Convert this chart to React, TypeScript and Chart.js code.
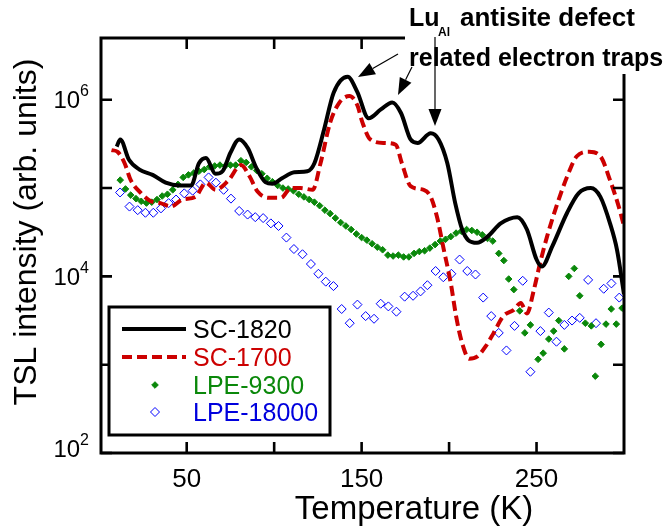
import React, { useEffect, useRef } from "react";
import { Chart, registerables } from "chart.js";

Chart.register(...registerables);

// ---- data (temperature in K, TSL intensity in arb. units) ----
const sc1820T = [10, 12, 17, 23, 30.5, 38, 46, 52.5, 57, 61, 66.5, 70.5, 75, 80, 85, 89.5, 95, 99, 104.5, 111.5, 119, 123, 128.5, 134, 142, 147.5, 154, 161, 167.5, 172.5, 178, 182, 189.5, 194, 199, 203.5, 207.5, 211, 216, 222, 229.5, 239, 244.5, 250, 253, 259, 267.5, 274, 281, 286.5, 292, 296, 300];
const sc1820I = [2.95e5, 3.55e5, 2.09e5, 1.62e5, 1.41e5, 1.15e5, 1.07e5, 1.07e5, 1.91e5, 2.19e5, 1.45e5, 1.55e5, 2.51e5, 3.55e5, 2.82e5, 1.74e5, 1.17e5, 1.12e5, 1.29e5, 1.51e5, 1.55e5, 1.91e5, 4.57e5, 1.2e6, 1.82e6, 1.23e6, 6.17e5, 7.76e5, 9.33e5, 7.08e5, 3.55e5, 3.24e5, 4.17e5, 3.55e5, 1.91e5, 6.76e4, 3.39e4, 2.57e4, 2.4e4, 2.82e4, 3.98e4, 4.68e4, 3.39e4, 1.55e4, 1.29e4, 2.19e4, 5.25e4, 8.71e4, 1.0e5, 7.94e4, 3.98e4, 2.0e4, 6.3e3];

const sc1700T = [7, 10.5, 14.5, 18, 24, 29.5, 35, 41, 47.5, 55, 61, 66.5, 74, 81, 86, 90.5, 97, 104, 109.5, 115, 122, 126.5, 132, 137, 143, 147.5, 150.5, 155, 163, 169.5, 173, 178, 185.5, 189.5, 193, 197, 201, 204, 207.5, 211.5, 216, 221, 225.5, 231, 237, 241, 244.5, 248.5, 252, 256, 262, 267.5, 273, 280, 286.5, 292, 297, 300];
const sc1700I = [2.69e5, 2.57e5, 1.91e5, 1.23e5, 8.71e4, 7.08e4, 6.76e4, 6.17e4, 7.41e4, 7.94e4, 1.15e5, 9.55e4, 1.23e5, 1.82e5, 1.35e5, 9.12e4, 7.76e4, 7.76e4, 1.0e5, 1.0e5, 9.55e4, 1.91e5, 5.5e5, 9.12e5, 1.1e6, 8.71e5, 5.5e5, 3.55e5, 3.24e5, 3.09e5, 1.91e5, 1.05e5, 9.55e4, 7.94e4, 4.79e4, 2.0e4, 8.3e3, 3.55e3, 1.74e3, 1.17e3, 1.23e3, 1.62e3, 2.29e3, 3.55e3, 4.17e3, 5.0e3, 3.8e3, 7.08e3, 1.41e4, 2.82e4, 6.76e4, 1.35e5, 2.29e5, 2.57e5, 2.29e5, 1.23e5, 6.17e4, 3.72e4];

const lpe9300T = [12, 15, 18, 21, 24, 27, 30, 33, 36, 39, 42, 45, 48, 51, 54, 57, 60, 63, 66, 69, 72, 75, 78, 81, 84, 87, 90, 93, 96, 99, 102, 105, 108, 111, 114, 117, 120, 123, 126, 129, 132, 135, 138, 141, 144, 147, 150, 153, 156, 159, 162, 165, 168, 171, 174, 177, 180, 183, 186, 189, 192, 195, 198, 201, 204, 207, 210, 213, 216, 219, 222, 225, 228.4, 231.3, 234.1, 237, 240.4, 243.3, 246.5, 250.9, 253.8, 257, 259.8, 262.7, 265.9, 268.4, 271.6, 274.7, 277.9, 281.3, 283.6, 286.9, 289.7, 292.7, 295.6, 298.9];
const lpe9300I = [1.23e5, 9.77e4, 8.32e4, 7.59e4, 7.08e4, 6.76e4, 6.92e4, 7.41e4, 8.13e4, 8.51e4, 9.55e4, 1.1e5, 1.32e5, 1.41e5, 1.48e5, 1.55e5, 1.62e5, 1.74e5, 1.78e5, 1.82e5, 1.78e5, 1.82e5, 1.82e5, 2.04e5, 1.95e5, 1.74e5, 1.58e5, 1.45e5, 1.29e5, 1.18e5, 1.07e5, 1.0e5, 9.77e4, 9.33e4, 8.51e4, 7.94e4, 7.41e4, 6.92e4, 6.31e4, 5.62e4, 5.13e4, 4.57e4, 4.07e4, 3.72e4, 3.39e4, 3.02e4, 2.75e4, 2.57e4, 2.34e4, 2.14e4, 2.0e4, 1.74e4, 1.7e4, 1.74e4, 1.66e4, 1.66e4, 1.82e4, 1.91e4, 1.95e4, 2.09e4, 2.29e4, 2.51e4, 2.63e4, 2.82e4, 3.09e4, 3.24e4, 3.39e4, 3.31e4, 3.16e4, 2.95e4, 2.69e4, 2.51e4, 1.82e4, 1.51e4, 9.33e3, 7.08e3, 4.07e3, 2.29e3, 2.82e3, 1.15e3, 1.35e3, 1.95e3, 2.4e3, 3.16e3, 1.51e3, 1.0e4, 1.23e4, 6.03e3, 2.95e3, 2.75e3, 741, 1.7e3, 2.88e3, 4.27e3, 2.88e3, 4.37e3];

const lpe18000T = [11.9, 17.3, 22, 26.4, 30.9, 35.3, 39.7, 43.9, 48.6, 53.4, 57.8, 62.5, 66.7, 71.1, 75.3, 80, 84.8, 89.2, 93.7, 98.1, 102.5, 107, 111.3, 116.2, 121, 125.3, 129.5, 133.9, 138.6, 143.2, 147.6, 152.3, 157.1, 160.9, 165.3, 169.9, 174.6, 179.4, 183.7, 187.6, 192.3, 196.7, 201.3, 206, 210.4, 215.1, 219.5, 224.1, 228.4, 232.8, 237.4, 242.1, 246.5, 252.2, 257, 261.4, 265.9, 270.3, 274.7, 279.5, 284, 288.4, 292.8, 297.3];
const lpe18000I = [8.91e4, 6.17e4, 5.62e4, 5.25e4, 5.25e4, 5.89e4, 6.76e4, 7.41e4, 8.71e4, 9.33e4, 1.1e5, 1.32e5, 1.15e5, 9.55e4, 7.59e4, 5.5e4, 5.01e4, 4.68e4, 4.57e4, 3.98e4, 3.72e4, 2.75e4, 2.04e4, 1.78e4, 1.38e4, 1.07e4, 8.71e3, 7.76e3, 4.27e3, 2.95e3, 4.79e3, 3.55e3, 3.31e3, 4.9e3, 4.57e3, 3.98e3, 5.89e3, 6.03e3, 6.76e3, 7.94e3, 1.15e4, 9.77e3, 1.07e4, 1.55e4, 1.15e4, 1.05e4, 5.75e3, 3.55e3, 2.29e3, 1.45e3, 2.75e3, 8.91e3, 832, 2.4e3, 3.89e3, 1.82e3, 2.82e3, 3.16e3, 3.39e3, 9.12e3, 2.95e3, 7.24e3, 8.32e3, 5.75e3];

const seriesLabels = ["SC-1820", "SC-1700", "LPE-9300", "LPE-18000"];
const xTickValues = [50, 100, 150, 200, 250];
const xTickLabels = ["50", "", "150", "", "250"];
const yTickValues = [1e2, 1e3, 1e4, 1e5, 1e6];
const yTickExponents = ["2", "", "4", "", "6"];
const xTitle = "Temperature (K)";
const yTitle = "TSL intensity (arb. units)";

const FONT = "'Liberation Sans', Arial, Helvetica, sans-serif";
const RED = "#cc0000";
const GREEN = "#0a880a";
const BLUE = "#0000ff";

const pts = (t: number[], v: number[]) => t.map((x, i) => ({ x, y: v[i] }));

function arrow(ctx: CanvasRenderingContext2D, x1: number, y1: number, x2: number, y2: number) {
  const ang = Math.atan2(y2 - y1, x2 - x1);
  const L = 17, W = 6.5;
  const bx = x2 - L * Math.cos(ang), by = y2 - L * Math.sin(ang);
  ctx.beginPath();
  ctx.moveTo(x1, y1);
  ctx.lineTo(bx, by);
  ctx.stroke();
  ctx.beginPath();
  ctx.moveTo(x2, y2);
  ctx.lineTo(bx + W * Math.sin(ang), by - W * Math.cos(ang));
  ctx.lineTo(bx - W * Math.sin(ang), by + W * Math.cos(ang));
  ctx.closePath();
  ctx.fill();
}

const decorPlugin = {
  id: "decor",
  beforeDraw(chart: any) {
    const ctx = chart.ctx;
    ctx.save();
    ctx.fillStyle = "#fff";
    ctx.fillRect(0, 0, chart.width, chart.height);
    ctx.restore();
  },
  afterDatasetsDraw(chart: any) {
    const { ctx, chartArea: a, scales } = chart;
    const xs = scales.x, ys = scales.y;
    ctx.save();
    ctx.strokeStyle = "#000";
    ctx.fillStyle = "#000";
    // frame
    ctx.lineWidth = 3;
    ctx.strokeRect(a.left, a.top, a.right - a.left, a.bottom - a.top);
    // inward ticks
    ctx.lineWidth = 2.6;
    ctx.beginPath();
    xTickValues.forEach((v) => {
      const px = xs.getPixelForValue(v);
      ctx.moveTo(px, a.bottom);
      ctx.lineTo(px, a.bottom - 11);
      ctx.moveTo(px, a.top);
      ctx.lineTo(px, a.top + 11);
    });
    yTickValues.forEach((v) => {
      const py = ys.getPixelForValue(v);
      ctx.moveTo(a.left, py);
      ctx.lineTo(a.left + 11, py);
      ctx.moveTo(a.right, py);
      ctx.lineTo(a.right - 11, py);
    });
    ctx.stroke();

    // x tick labels
    ctx.font = `26px ${FONT}`;
    ctx.textAlign = "center";
    ctx.textBaseline = "alphabetic";
    xTickValues.forEach((v, i) => {
      if (!xTickLabels[i]) return;
      ctx.fillText(xTickLabels[i], xs.getPixelForValue(v), a.bottom + 34);
    });
    // y tick labels 10^n
    yTickValues.forEach((v, i) => {
      const e = yTickExponents[i];
      if (!e) return;
      const py = ys.getPixelForValue(v);
      const base = Math.min(py + 8.5, a.bottom + 4);
      const right = a.left - 12;
      ctx.font = `16px ${FONT}`;
      ctx.textAlign = "right";
      ctx.fillText(e, right, base - 12);
      const ew = ctx.measureText(e).width;
      ctx.font = `24px ${FONT}`;
      ctx.fillText("10", right - ew, base);
    });
    // axis titles
    ctx.font = `33px ${FONT}`;
    ctx.textAlign = "center";
    ctx.fillText(xTitle, 414, 519);
    ctx.save();
    ctx.translate(27, 232);
    ctx.rotate(-Math.PI / 2);
    ctx.textBaseline = "middle";
    ctx.font = `32px ${FONT}`;
    ctx.fillText(yTitle, 0, 0);
    ctx.restore();

    // legend box
    const lx = 109, ly = 307, lw = 221, lh = 128;
    ctx.fillStyle = "#fff";
    ctx.fillRect(lx, ly, lw, lh);
    ctx.lineWidth = 3;
    ctx.strokeStyle = "#000";
    ctx.strokeRect(lx, ly, lw, lh);
    const rows = [329, 357, 385, 412];
    const textColors = ["#000", RED, GREEN, "#0000dd"];
    chart.data.datasets.forEach((ds: any, i: number) => {
      const y = rows[i];
      if (ds.showLine !== false) {
        ctx.save();
        ctx.strokeStyle = ds.borderColor;
        ctx.lineWidth = ds.borderWidth;
        ctx.setLineDash(ds.borderDash || []);
        ctx.beginPath();
        ctx.moveTo(122, y);
        ctx.lineTo(186, y);
        ctx.stroke();
        ctx.restore();
      } else {
        const r = ds.pointRadius;
        ctx.save();
        ctx.beginPath();
        ctx.moveTo(155, y - r);
        ctx.lineTo(155 + r, y);
        ctx.lineTo(155, y + r);
        ctx.lineTo(155 - r, y);
        ctx.closePath();
        if (ds.pointBackgroundColor && ds.pointBackgroundColor !== "transparent") {
          ctx.fillStyle = ds.pointBackgroundColor;
          ctx.fill();
        }
        ctx.strokeStyle = ds.pointBorderColor;
        ctx.lineWidth = ds.pointBorderWidth;
        ctx.stroke();
        ctx.restore();
      }
      ctx.fillStyle = textColors[i];
      ctx.font = `25px ${FONT}`;
      ctx.textAlign = "left";
      ctx.textBaseline = "middle";
      ctx.fillText(ds.label, 193, y + 2);
    });

    // annotation
    ctx.fillStyle = "#fff";
    ctx.fillRect(405, 0, chart.width - 405, 74);
    ctx.fillStyle = "#000";
    ctx.textBaseline = "alphabetic";
    ctx.textAlign = "left";
    ctx.font = `bold 25px ${FONT}`;
    ctx.fillText("Lu", 409, 26);
    ctx.font = `bold 12px ${FONT}`;
    ctx.fillText("Al", 438, 36);
    ctx.font = `bold 26px ${FONT}`;
    ctx.fillText("antisite defect", 460, 26);
    ctx.font = `bold 25px ${FONT}`;
    ctx.fillText("related electron traps", 409, 66);
    ctx.strokeStyle = "#000";
    ctx.lineWidth = 1.2;
    arrow(ctx, 398, 54, 358, 77);
    arrow(ctx, 412, 67, 398, 95);
    arrow(ctx, 435, 37, 435, 126);
    ctx.restore();
  },
};

export default function App() {
  const ref = useRef<HTMLCanvasElement>(null);
  useEffect(() => {
    if (!ref.current) return;
    const chart = new Chart(ref.current, {
      type: "line",
      data: {
        datasets: [
          {
            label: seriesLabels[0],
            data: pts(sc1820T, sc1820I),
            borderColor: "#000",
            borderWidth: 4,
            pointRadius: 0,
            cubicInterpolationMode: "monotone",
            fill: false,
            order: 0,
          },
          {
            label: seriesLabels[1],
            data: pts(sc1700T, sc1700I),
            borderColor: RED,
            borderWidth: 4,
            borderDash: [10, 5],
            pointRadius: 0,
            cubicInterpolationMode: "monotone",
            fill: false,
            order: 1,
          },
          {
            label: seriesLabels[2],
            data: pts(lpe9300T, lpe9300I),
            showLine: false,
            pointStyle: "rectRot",
            pointRadius: 3.3,
            pointBackgroundColor: GREEN,
            pointBorderColor: GREEN,
            pointBorderWidth: 1,
            order: 2,
          },
          {
            label: seriesLabels[3],
            data: pts(lpe18000T, lpe18000I),
            showLine: false,
            pointStyle: "rectRot",
            pointRadius: 4.5,
            pointBackgroundColor: "transparent",
            pointBorderColor: BLUE,
            pointBorderWidth: 1,
            order: 3,
          },
        ] as any,
      },
      options: {
        animation: false,
        responsive: false,
        events: [],
        layout: { padding: { left: 101, right: 41, top: 38, bottom: 75 } },
        plugins: { legend: { display: false }, tooltip: { enabled: false }, title: { display: false } },
        scales: {
          x: { type: "linear", min: 1, max: 300, display: false },
          y: { type: "logarithmic", min: 100, max: 5e6, display: false },
        },
      },
      plugins: [decorPlugin],
    });
    return () => chart.destroy();
  }, []);
  return (
    <div style={{ position: "absolute", left: 0, top: 0, width: 665, height: 528 }}>
      <canvas ref={ref} width={665} height={528} style={{ display: "block" }} />
    </div>
  );
}
